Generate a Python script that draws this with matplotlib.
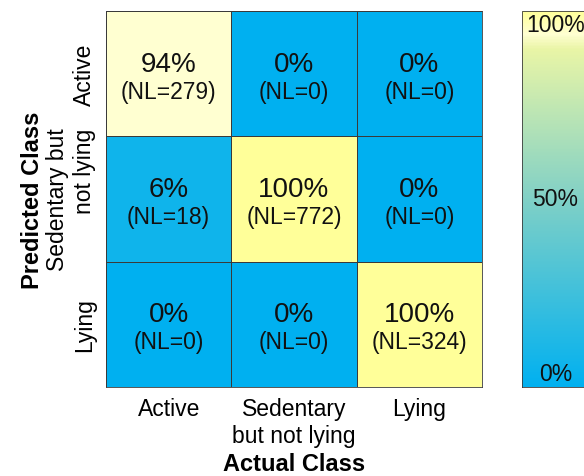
import numpy as np
import matplotlib.pyplot as plt
from matplotlib.colors import LinearSegmentedColormap

plt.rcParams['font.family'] = ['Liberation Sans', 'DejaVu Sans']

classes_x = ["Active", "Sedentary\nbut not lying", "Lying"]
classes_y = ["Active", "Sedentary but\nnot lying", "Lying"]
# rows = predicted, cols = actual
pct = np.array([[94, 0, 0],
                [6, 100, 0],
                [0, 0, 100]])
counts = np.array([[279, 0, 0],
                   [18, 772, 0],
                   [0, 0, 324]])
cbar_ticks = [0, 50, 100]

cmap = LinearSegmentedColormap.from_list("cm", [
    (0.0, "#00b0f0"), (0.5, "#80d0c6"), (0.9, "#e9f5a6"),
    (0.94, "#ffffd2"), (1.0, "#ffff99")])

fig = plt.figure(figsize=(5.84, 4.77), dpi=100)
ax = fig.add_axes([106/584, 89/477, 376/584, 376/477])
mesh = ax.pcolormesh(pct, cmap=cmap, vmin=0, vmax=100,
                     edgecolors="#3a3a3a", linewidth=0.6)
ax.set_xlim(0, 3)
ax.set_ylim(3, 0)
for sp in ax.spines.values():
    sp.set_color("#3a3a3a")
    sp.set_linewidth(0.6)

for i in range(3):
    for j in range(3):
        ax.text(j + 0.5, i + 0.42, f"{pct[i, j]}%", ha="center", va="center",
                fontsize=20, color="#111111")
        ax.text(j + 0.5, i + 0.64, f"(NL={counts[i, j]})", ha="center", va="center",
                fontsize=16.5, color="#111111")

ax.set_xticks(np.arange(3) + 0.5)
ax.set_xticklabels(classes_x, fontsize=16.5, linespacing=1.25)
ax.set_yticks(np.arange(3) + 0.5)
ax.set_yticklabels(classes_y, fontsize=16.5, rotation=90, va="center",
                   linespacing=1.25)
ax.tick_params(length=0, pad=7)
ax.set_xlabel("Actual Class", fontsize=17, fontweight="bold", labelpad=3.5)
ax.set_ylabel("Predicted Class", fontsize=17, fontweight="bold", labelpad=1)

cax = fig.add_axes([522/584, 89/477, 0.2, 376/477])
cb = fig.colorbar(mesh, cax=cax)
cb.set_ticks([])
cb.outline.set_edgecolor("#3a3a3a")
cb.outline.set_linewidth(0.6)
for t, y, x in zip(cbar_ticks, [0.035, 0.5, 0.965], [0.15, 0.09, 0.04]):
    cax.text(x, y, f"{t}%", transform=cax.transAxes, fontsize=16.5,
             va="center", ha="left", color="#111111")

fig.savefig("out.png", dpi=100)
